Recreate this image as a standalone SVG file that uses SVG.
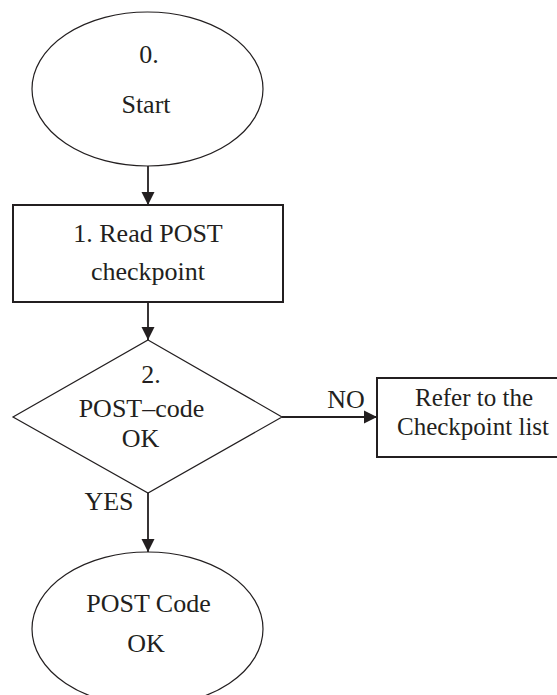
<svg xmlns="http://www.w3.org/2000/svg" width="557" height="695" viewBox="0 0 557 695">
<style>
.shape{fill:#fff;stroke:#231f20;stroke-width:1.2}
.box{fill:#fff;stroke:#231f20;stroke-width:2}
.conn{stroke:#231f20;stroke-width:1.8;fill:none}
text{font-family:"Liberation Serif","Times New Roman",serif;font-size:26px;fill:#231f20;text-anchor:middle}
.tight{font-size:25px}
</style>
<defs>
<marker id="arr" markerUnits="userSpaceOnUse" markerWidth="14" markerHeight="14" viewBox="0 0 14 14" refX="13" refY="7" orient="auto">
<path d="M0,0.5 L13,7 L0,13.5 Z" fill="#231f20"/>
</marker>
</defs>
<rect width="557" height="695" fill="#fff"/>
<g id="connectors">
<line class="conn" x1="148" y1="166" x2="148" y2="205" marker-end="url(#arr)"/>
<line class="conn" x1="148" y1="302" x2="148" y2="340" marker-end="url(#arr)"/>
<line class="conn" x1="282" y1="417" x2="377" y2="417" marker-end="url(#arr)"/>
<line class="conn" x1="148" y1="493" x2="148" y2="552" marker-end="url(#arr)"/>
<text x="346" y="408">NO</text>
<text x="109" y="510">YES</text>
</g>
<g id="start">
<ellipse class="shape" cx="147.5" cy="89" rx="115.5" ry="77"/>
<text x="149" y="63">0.</text>
<text x="146" y="113">Start</text>
</g>
<g id="read">
<rect class="box" x="13" y="205" width="270" height="97"/>
<text x="148" y="242">1. Read POST</text>
<text x="148" y="280">checkpoint</text>
</g>
<g id="decision">
<polygon class="shape" points="148,340 282,417 148,493 13,417"/>
<text x="151" y="383">2.</text>
<text x="141.5" y="417">POST–code</text>
<text x="140.5" y="447">OK</text>
</g>
<g id="refer">
<rect class="box" x="377" y="378" width="190" height="79"/>
<text class="tight" x="474" y="406">Refer to the</text>
<text class="tight" x="473" y="435">Checkpoint list</text>
</g>
<g id="ok">
<ellipse class="shape" cx="147.5" cy="629" rx="115.5" ry="77"/>
<text x="148.5" y="612">POST Code</text>
<text x="146" y="652">OK</text>
</g>
</svg>
